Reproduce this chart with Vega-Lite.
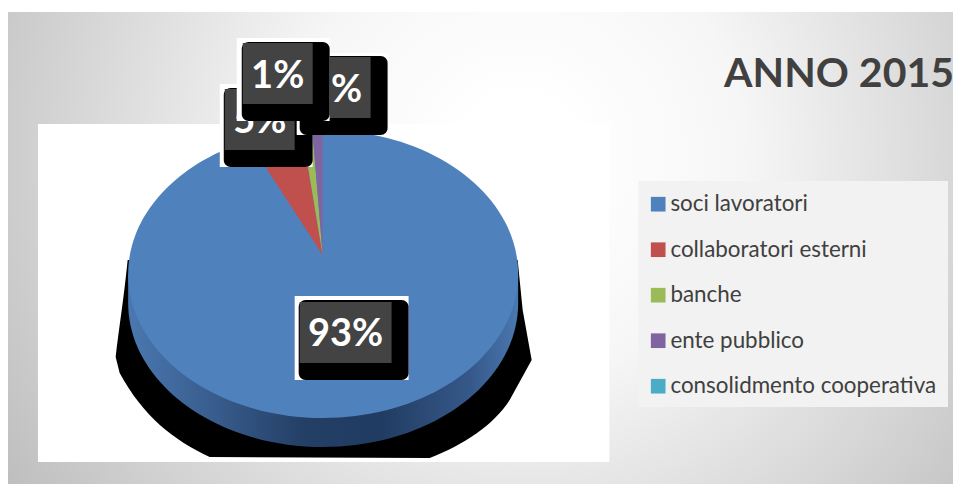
{
"$schema":"https://vega.github.io/schema/vega-lite/v6.json",
"width":954,"height":484,"padding":0,
"autosize":{"type":"fit","contains":"padding"},
"background":"#ffffff",
"config":{"view":{"stroke":null},"axis":{"disable":true},"text":{"font":"Lato"}},
"datasets":{"shares":[
{"fonte":"soci lavoratori","quota":0.93},
{"fonte":"collaboratori esterni","quota":0.05},
{"fonte":"banche","quota":0.01},
{"fonte":"ente pubblico","quota":0.01},
{"fonte":"consolidmento cooperativa","quota":0.0}
]},
"data":{"name":"shares"},
"layer":[
{"mark":{"type":"rect","fill":{"gradient":"radial","x1":0.54,"y1":0.4,"r1":0.06,"x2":0.54,"y2":0.4,"r2":0.66,"stops":[{"offset":0,"color":"#ffffff"},{"offset":0.3,"color":"#f6f6f6"},{"offset":1,"color":"#bcbcbc"}]},"stroke":null},
 "transform":[{"filter":"datum.fonte==='soci lavoratori'"}],
 "encoding":{"x":{"datum":8,"scale":{"domain":[0,954],"nice":false,"zero":false}},"x2":{"datum":954},"y":{"datum":12,"scale":{"domain":[484,0],"nice":false,"zero":false}},"y2":{"datum":484}}},
{"mark":{"type":"rect","fill":"#ffffff"},"transform":[{"filter":"datum.fonte==='soci lavoratori'"}],
 "encoding":{"x":{"datum":38},"x2":{"datum":610},"y":{"datum":124},"y2":{"datum":462}}},
{"mark":{"type":"rect","fill":"#f2f2f2"},"transform":[{"filter":"datum.fonte==='soci lavoratori'"}],
 "encoding":{"x":{"datum":639},"x2":{"datum":949},"y":{"datum":181},"y2":{"datum":407}}},
{"mark":{"type":"point","filled":true,"opacity":1,"size":4,"fill":"#000000","shape":"M-196,-100 C-200,-60 -205,-30 -208,-3 L-204,13 C-180,57 -150,80 -114,97 L106,98 C140,85 170,65 186,40 L208,0 L199,-50 L194,-100 Z"},
 "transform":[{"filter":"datum.fonte==='soci lavoratori'"}],
 "encoding":{"x":{"datum":324},"y":{"datum":360}}},
{"mark":{"type":"point","filled":true,"opacity":1,"size":4,"fill":{"gradient":"linear","x1":0,"y1":0,"x2":1,"y2":0,"stops":[{"offset":0,"color":"#4a78b0"},{"offset":0.2,"color":"#3a5f90"},{"offset":0.45,"color":"#233f66"},{"offset":0.65,"color":"#213c62"},{"offset":0.88,"color":"#36598a"},{"offset":1,"color":"#4a78b0"}]},"shape":"M-195,-29 L-195,0 A195,144 0 0 0 195,0 L195,-29 Z"},
 "transform":[{"filter":"datum.fonte==='soci lavoratori'"}],
 "encoding":{"x":{"datum":323.5},"y":{"datum":303}}},
{"mark":{"type":"point","filled":true,"opacity":1,"size":4,"shape":"M-195,0 A195,144 0 1 1 195,0 A195,144 0 1 1 -195,0 Z"},
 "transform":[{"filter":"datum.fonte==='soci lavoratori'"}],
 "encoding":{"x":{"datum":323.5},"y":{"datum":274},
  "color":{"field":"fonte","type":"nominal","scale":{"domain":["soci lavoratori","collaboratori esterni","banche","ente pubblico","consolidmento cooperativa"],"range":["#4f81bd","#c0504d","#9bbb59","#8064a2","#4bacc6"]},"legend":{"title":null,"orient":"none","legendX":647,"legendY":193,"symbolType":"square","symbolSize":215,"symbolStrokeWidth":0,"symbolOpacity":1,"labelFont":"Lato","labelFontSize":22.4,"labelColor":"#404040","labelOffset":1,"labelLimit":400,"rowPadding":22.5,"padding":0}}}},
{"mark":{"type":"arc","radius":125},
 "transform":[{"filter":"datum.fonte!=='soci lavoratori'"}],
 "encoding":{"x":{"datum":323},"y":{"datum":255},
  "theta":{"field":"quota","type":"quantitative","stack":true,"scale":{"domain":[0,0.07],"range":[-0.576,0]}},
  "order":{"field":"quota","sort":"descending"},
  "color":{"field":"fonte","type":"nominal"}}},

{"mark":{"type":"rect","fill":"#ffffff"},"transform":[{"filter":"datum.fonte==='soci lavoratori'"}],"encoding":{"x":{"datum":295},"x2":{"datum":409},"y":{"datum":296},"y2":{"datum":380}}},
{"mark":{"type":"rect","fill":"#000000","cornerRadius":7},"transform":[{"filter":"datum.fonte==='soci lavoratori'"}],"encoding":{"x":{"datum":299},"x2":{"datum":409},"y":{"datum":300},"y2":{"datum":380}}},
{"mark":{"type":"rect","fill":"#434343"},"transform":[{"filter":"datum.fonte==='soci lavoratori'"}],"encoding":{"x":{"datum":300},"x2":{"datum":392},"y":{"datum":302},"y2":{"datum":363}}},
{"mark":{"type":"text","fontWeight":"bold","fontSize":38,"color":"#ffffff","baseline":"middle"},"transform":[{"filter":"datum.fonte==='soci lavoratori'"}],"encoding":{"x":{"datum":346},"y":{"datum":335},"text":{"field":"quota","type":"quantitative","format":".0%"}}},

{"mark":{"type":"rect","fill":"#ffffff"},"transform":[{"filter":"datum.fonte==='collaboratori esterni'"}],"encoding":{"x":{"datum":220},"x2":{"datum":313},"y":{"datum":84},"y2":{"datum":167}}},
{"mark":{"type":"rect","fill":"#000000","cornerRadius":7},"transform":[{"filter":"datum.fonte==='collaboratori esterni'"}],"encoding":{"x":{"datum":224},"x2":{"datum":313},"y":{"datum":88},"y2":{"datum":167}}},
{"mark":{"type":"rect","fill":"#434343"},"transform":[{"filter":"datum.fonte==='collaboratori esterni'"}],"encoding":{"x":{"datum":225},"x2":{"datum":295},"y":{"datum":89},"y2":{"datum":150}}},
{"mark":{"type":"text","fontWeight":"bold","fontSize":38,"color":"#ffffff","baseline":"middle"},"transform":[{"filter":"datum.fonte==='collaboratori esterni'"}],"encoding":{"x":{"datum":260},"y":{"datum":122},"text":{"field":"quota","type":"quantitative","format":".0%"}}},

{"mark":{"type":"rect","fill":"#ffffff"},"transform":[{"filter":"datum.fonte==='ente pubblico'"}],"encoding":{"x":{"datum":297},"x2":{"datum":388},"y":{"datum":53},"y2":{"datum":135}}},
{"mark":{"type":"rect","fill":"#000000","cornerRadius":7},"transform":[{"filter":"datum.fonte==='ente pubblico'"}],"encoding":{"x":{"datum":300},"x2":{"datum":388},"y":{"datum":56},"y2":{"datum":135}}},
{"mark":{"type":"rect","fill":"#434343"},"transform":[{"filter":"datum.fonte==='ente pubblico'"}],"encoding":{"x":{"datum":301},"x2":{"datum":371},"y":{"datum":57},"y2":{"datum":118}}},
{"mark":{"type":"text","fontWeight":"bold","fontSize":38,"color":"#ffffff","baseline":"middle"},"transform":[{"filter":"datum.fonte==='ente pubblico'"}],"encoding":{"x":{"datum":336},"y":{"datum":91},"text":{"field":"quota","type":"quantitative","format":".0%"}}},

{"mark":{"type":"rect","fill":"#ffffff"},"transform":[{"filter":"datum.fonte==='banche'"}],"encoding":{"x":{"datum":237},"x2":{"datum":330},"y":{"datum":38},"y2":{"datum":121}}},
{"mark":{"type":"rect","fill":"#000000","cornerRadius":7},"transform":[{"filter":"datum.fonte==='banche'"}],"encoding":{"x":{"datum":242},"x2":{"datum":330},"y":{"datum":42},"y2":{"datum":121}}},
{"mark":{"type":"rect","fill":"#434343"},"transform":[{"filter":"datum.fonte==='banche'"}],"encoding":{"x":{"datum":243},"x2":{"datum":313},"y":{"datum":43},"y2":{"datum":104}}},
{"mark":{"type":"text","fontWeight":"bold","fontSize":38,"color":"#ffffff","baseline":"middle"},"transform":[{"filter":"datum.fonte==='banche'"}],"encoding":{"x":{"datum":278},"y":{"datum":77},"text":{"field":"quota","type":"quantitative","format":".0%"}}},

{"mark":{"type":"text","fontWeight":"bold","fontSize":41,"color":"#404040","baseline":"middle","align":"right"},"transform":[{"filter":"datum.fonte==='soci lavoratori'"}],"encoding":{"x":{"datum":955},"y":{"datum":75},"text":{"value":"ANNO 2015"}}}
]
}
